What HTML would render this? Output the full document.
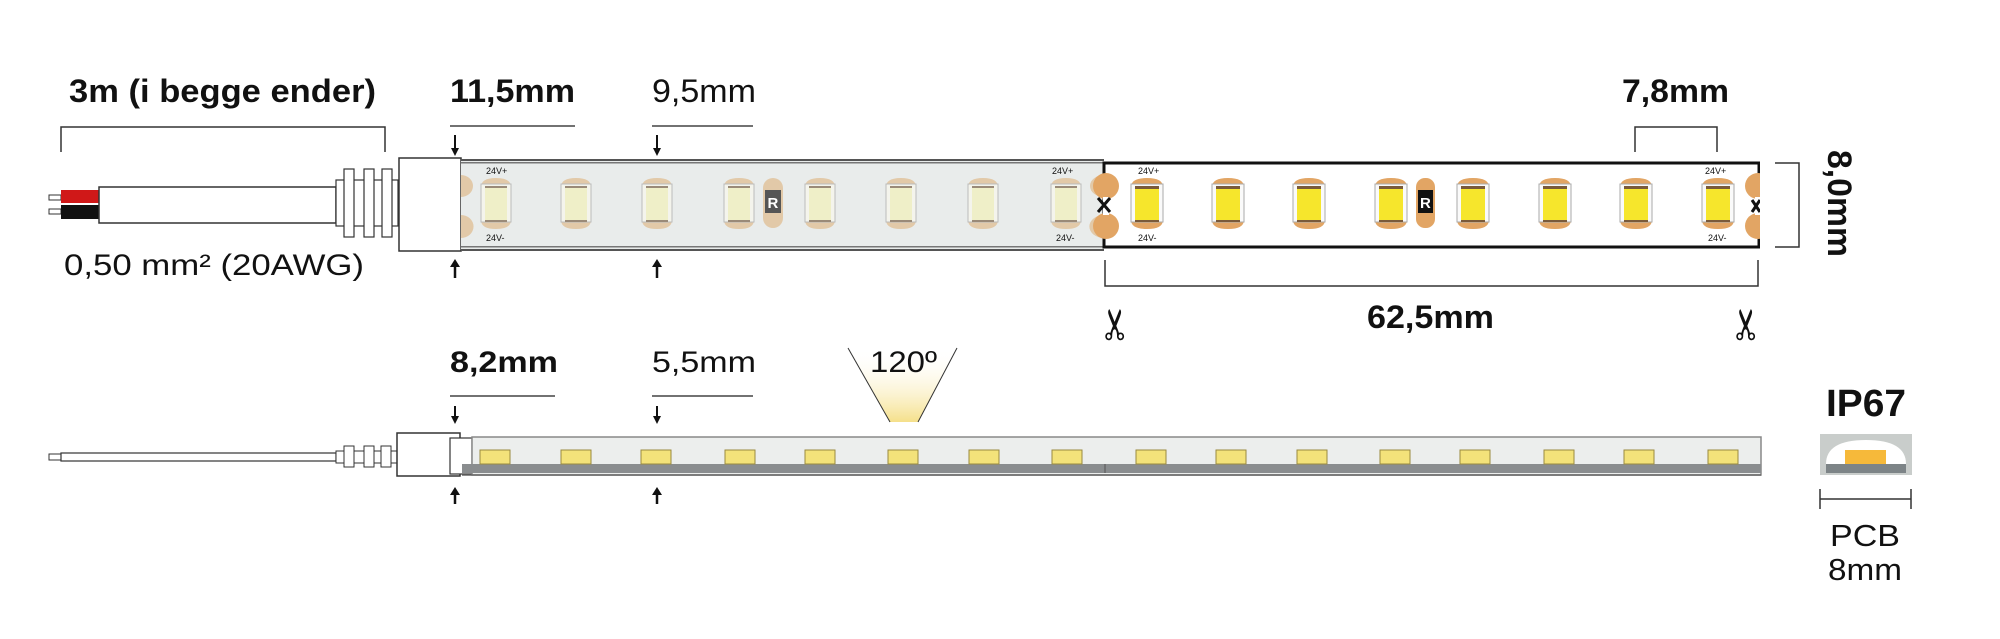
<!DOCTYPE html>
<html><head><meta charset="utf-8"><style>
html,body{margin:0;padding:0;background:#fff}
svg{display:block}
text{font-family:"Liberation Sans",sans-serif;fill:#111}
</style></head><body>
<svg width="2000" height="639" viewBox="0 0 2000 639" xmlns="http://www.w3.org/2000/svg">
<defs>
<g id="led1">
  <path d="M0,187 Q0,178 15,178 Q30,178 30,187 Z" fill="#e2c9a8"/>
  <path d="M0,220 Q0,229 15,229 Q30,229 30,220 Z" fill="#e2c9a8"/>
  <rect x="0" y="184" width="30" height="38" fill="#f4f4ec" stroke="#bbb" stroke-width="1"/>
  <rect x="4" y="188" width="22" height="32" fill="#efefc8"/>
  <rect x="4" y="186" width="22" height="2" fill="#9a8a78"/>
  <rect x="4" y="220" width="22" height="2" fill="#9a8a78"/>
</g>
<g id="led2">
  <path d="M0,187 Q0,178 16,178 Q32,178 32,187 Z" fill="#e2a564"/>
  <path d="M0,220 Q0,229 16,229 Q32,229 32,220 Z" fill="#e2a564"/>
  <rect x="0" y="184" width="32" height="38" fill="#fafafa" stroke="#aaa" stroke-width="1"/>
  <rect x="4" y="189" width="24" height="31" fill="#f6e62c"/>
  <rect x="4" y="186" width="24" height="3" fill="#7a5a3a"/>
  <rect x="4" y="220" width="24" height="2" fill="#7a5a3a"/>
</g>
<g id="ledS">
  <rect x="0" y="450" width="30" height="14" fill="#f3e27a" stroke="#9a8a40" stroke-width="1"/>
</g>
</defs>

<text x="69" y="102" font-size="32" font-weight="bold" textLength="307" lengthAdjust="spacingAndGlyphs">3m (i begge ender)</text>
<path d="M61,152 V127 H385 V152" fill="none" stroke="#333" stroke-width="1.5"/>

<text x="450" y="102" font-size="32" font-weight="bold" textLength="125" lengthAdjust="spacingAndGlyphs">11,5mm</text>
<line x1="450" y1="126" x2="575" y2="126" stroke="#444" stroke-width="1.5"/>
<text x="652" y="102" font-size="32" textLength="104" lengthAdjust="spacingAndGlyphs">9,5mm</text>
<line x1="652" y1="126" x2="753" y2="126" stroke="#444" stroke-width="1.5"/>

<g fill="#111" stroke="#111">
<line x1="455" y1="135" x2="455" y2="149" stroke-width="2"/><path d="M451,148 L459,148 L455,156 Z" stroke="none"/>
<line x1="657" y1="135" x2="657" y2="149" stroke-width="2"/><path d="M653,148 L661,148 L657,156 Z" stroke="none"/>
<line x1="455" y1="266" x2="455" y2="278" stroke-width="2.5"/><path d="M450,267 L460,267 L455,259 Z" stroke="none"/>
<line x1="657" y1="266" x2="657" y2="278" stroke-width="2.5"/><path d="M652,267 L662,267 L657,259 Z" stroke="none"/>
</g>

<rect x="49" y="195" width="12" height="5" fill="#fff" stroke="#333"/>
<rect x="49" y="209" width="12" height="5" fill="#fff" stroke="#333"/>
<rect x="61" y="190" width="38" height="13" fill="#d01818"/>
<rect x="61" y="205" width="38" height="14" fill="#111"/>
<rect x="99" y="187" width="237" height="36" fill="#fff" stroke="#333" stroke-width="1.5"/>
<rect x="336" y="180" width="62" height="46" fill="#fff" stroke="#333" stroke-width="1.2"/>
<rect x="344" y="169" width="10" height="68" fill="#fff" stroke="#333" stroke-width="1.2"/>
<rect x="364" y="169" width="10" height="68" fill="#fff" stroke="#333" stroke-width="1.2"/>
<rect x="382" y="169" width="10" height="68" fill="#fff" stroke="#333" stroke-width="1.2"/>
<rect x="399" y="158" width="62" height="93" fill="#fff" stroke="#333" stroke-width="1.5"/>

<rect x="461" y="159" width="643" height="92" fill="#e9eceb"/>
<rect x="461" y="159" width="643" height="2" fill="#555"/>
<rect x="461" y="162" width="643" height="1.5" fill="#777"/>
<rect x="461" y="246" width="643" height="1.5" fill="#777"/>
<rect x="461" y="249" width="643" height="2" fill="#555"/>
<path d="M461,175 A12,11 0 0 1 461,197 Z" fill="#e2c9a8"/>
<path d="M461,215 A12,11 0 0 1 461,238 Z" fill="#e2c9a8"/>
<path d="M1104,175 A14,11 0 0 0 1104,197 Z" fill="#e2c9a8"/>
<path d="M1104,215 A14,11 0 0 0 1104,238 Z" fill="#e2c9a8"/>
<text x="486" y="174" font-size="9" fill="#666">24V+</text>
<text x="486" y="241" font-size="9" fill="#666">24V-</text>
<text x="1052" y="174" font-size="9" fill="#666">24V+</text>
<text x="1056" y="241" font-size="9" fill="#666">24V-</text>
<use href="#led1" x="481"/><use href="#led1" x="561"/><use href="#led1" x="642"/><use href="#led1" x="724"/>
<use href="#led1" x="805"/><use href="#led1" x="886"/><use href="#led1" x="968"/><use href="#led1" x="1051"/>
<rect x="763" y="178" width="20" height="50" rx="10" fill="#e2c9a8"/>
<rect x="765" y="190" width="16" height="23" fill="#555"/>
<text x="767.5" y="208" font-size="15" font-weight="bold" style="fill:#fff">R</text>

<rect x="1104" y="163" width="655" height="84" fill="#fff" stroke="#111" stroke-width="3"/>
<circle cx="1106" cy="186" r="13" fill="#e2a564"/>
<circle cx="1106" cy="226" r="13" fill="#e2a564"/>
<rect x="1103" y="197" width="6" height="18" fill="#fff"/>
<path d="M1098,198 L1110,212 M1110,198 L1098,212" stroke="#111" stroke-width="3"/>
<circle cx="1758" cy="186" r="13" fill="#e2a564"/>
<circle cx="1758" cy="226" r="13" fill="#e2a564"/>
<rect x="1755" y="197" width="6" height="18" fill="#fff"/>
<path d="M1752,200 L1760,212 M1760,200 L1752,212" stroke="#111" stroke-width="3"/>
<rect x="1760" y="160" width="14" height="90" fill="#fff"/>
<text x="1138" y="174" font-size="9">24V+</text>
<text x="1138" y="241" font-size="9">24V-</text>
<text x="1705" y="174" font-size="9">24V+</text>
<text x="1708" y="241" font-size="9">24V-</text>
<use href="#led2" x="1131"/><use href="#led2" x="1212"/><use href="#led2" x="1293"/><use href="#led2" x="1375"/>
<use href="#led2" x="1457"/><use href="#led2" x="1539"/><use href="#led2" x="1620"/><use href="#led2" x="1702"/>
<rect x="1416" y="178" width="19" height="50" rx="9" fill="#e2a564"/>
<rect x="1418" y="190" width="15" height="23" fill="#111"/>
<text x="1420" y="208" font-size="15" font-weight="bold" style="fill:#fff">R</text>

<text x="1622" y="102" font-size="32" font-weight="bold" textLength="107" lengthAdjust="spacingAndGlyphs">7,8mm</text>
<path d="M1635,152 V127 H1717 V152" fill="none" stroke="#333" stroke-width="1.5"/>
<path d="M1775,163 H1799 V247 H1775" fill="none" stroke="#333" stroke-width="1.5"/>
<text transform="translate(1828,150) rotate(90)" font-size="34" font-weight="bold" textLength="107" lengthAdjust="spacingAndGlyphs">8,0mm</text>

<path d="M1105,260 V286 H1758 V260" fill="none" stroke="#333" stroke-width="1.5"/>
<text x="1367" y="328" font-size="32" font-weight="bold" textLength="127" lengthAdjust="spacingAndGlyphs">62,5mm</text>
<text transform="translate(1130,342) rotate(-90)" font-size="42" style="font-family:'DejaVu Sans',sans-serif">✂</text>
<text transform="translate(1761,342) rotate(-90)" font-size="42" style="font-family:'DejaVu Sans',sans-serif">✂</text>

<text x="64" y="275" font-size="30" textLength="300" lengthAdjust="spacingAndGlyphs">0,50 mm² (20AWG)</text>

<text x="450" y="372" font-size="30" font-weight="bold" textLength="108" lengthAdjust="spacingAndGlyphs">8,2mm</text>
<line x1="450" y1="396" x2="555" y2="396" stroke="#444" stroke-width="1.5"/>
<text x="652" y="372" font-size="30" textLength="104" lengthAdjust="spacingAndGlyphs">5,5mm</text>
<line x1="652" y1="396" x2="753" y2="396" stroke="#444" stroke-width="1.5"/>
<g fill="#111" stroke="#111">
<line x1="455" y1="406" x2="455" y2="417" stroke-width="2"/><path d="M451,416 L459,416 L455,424 Z" stroke="none"/>
<line x1="657" y1="406" x2="657" y2="417" stroke-width="2"/><path d="M653,416 L661,416 L657,424 Z" stroke="none"/>
<line x1="455" y1="494" x2="455" y2="504" stroke-width="2.5"/><path d="M450,495 L460,495 L455,487 Z" stroke="none"/>
<line x1="657" y1="494" x2="657" y2="504" stroke-width="2.5"/><path d="M652,495 L662,495 L657,487 Z" stroke="none"/>
</g>

<defs><linearGradient id="cone" x1="0" y1="1" x2="0" y2="0">
<stop offset="0" stop-color="#f5e08a"/><stop offset="1" stop-color="#fff" stop-opacity="0"/></linearGradient></defs>
<path d="M848,348 L890,422 L918,422 L957,348" fill="url(#cone)" stroke="none"/>
<line x1="848" y1="348" x2="890" y2="422" stroke="#333" stroke-width="1"/>
<line x1="957" y1="348" x2="918" y2="422" stroke="#333" stroke-width="1"/>
<text x="870" y="372" font-size="30" textLength="67" lengthAdjust="spacingAndGlyphs">120º</text>

<rect x="49" y="454" width="12" height="6" fill="#fff" stroke="#333"/>
<rect x="61" y="453" width="275" height="8" fill="#fff" stroke="#333" stroke-width="1.2"/>
<rect x="336" y="451" width="62" height="12" fill="#fff" stroke="#333"/>
<rect x="344" y="446" width="10" height="21" fill="#fff" stroke="#333"/>
<rect x="364" y="446" width="10" height="21" fill="#fff" stroke="#333"/>
<rect x="381" y="446" width="10" height="21" fill="#fff" stroke="#333"/>
<rect x="397" y="433" width="63" height="43" fill="#fff" stroke="#333" stroke-width="1.5"/>
<rect x="450" y="438" width="22" height="36" fill="#fff" stroke="#333" stroke-width="1.2"/>

<rect x="472" y="437" width="1289" height="38" fill="#eceeed" stroke="#888" stroke-width="1.5"/>
<rect x="462" y="464" width="1299" height="9" fill="#8a8d8f"/>
<line x1="462" y1="475" x2="1761" y2="475" stroke="#666" stroke-width="1.5"/>
<line x1="1105" y1="464" x2="1105" y2="473" stroke="#555" stroke-width="1"/>
<use href="#ledS" x="480"/><use href="#ledS" x="561"/><use href="#ledS" x="641"/><use href="#ledS" x="725"/>
<use href="#ledS" x="805"/><use href="#ledS" x="888"/><use href="#ledS" x="969"/><use href="#ledS" x="1052"/>
<use href="#ledS" x="1136"/><use href="#ledS" x="1216"/><use href="#ledS" x="1297"/><use href="#ledS" x="1380"/>
<use href="#ledS" x="1460"/><use href="#ledS" x="1544"/><use href="#ledS" x="1624"/><use href="#ledS" x="1708"/>

<text x="1826" y="416" font-size="38" font-weight="bold" textLength="80" lengthAdjust="spacingAndGlyphs">IP67</text>
<rect x="1820" y="434" width="92" height="41" fill="#c9cdcb"/>
<path d="M1826,464 Q1826,440 1866,440 Q1906,440 1906,464 Z" fill="#fff"/>
<rect x="1845" y="450" width="41" height="14" fill="#f6b93a"/>
<rect x="1826" y="464" width="80" height="9" fill="#7d8487"/>
<line x1="1820" y1="499" x2="1911" y2="499" stroke="#333" stroke-width="1.5"/>
<line x1="1820" y1="489" x2="1820" y2="509" stroke="#333" stroke-width="1.5"/>
<line x1="1911" y1="489" x2="1911" y2="509" stroke="#333" stroke-width="1.5"/>
<text x="1830" y="546" font-size="31" textLength="70" lengthAdjust="spacingAndGlyphs">PCB</text>
<text x="1828" y="580" font-size="31" textLength="74" lengthAdjust="spacingAndGlyphs">8mm</text>
</svg>
</body></html>
